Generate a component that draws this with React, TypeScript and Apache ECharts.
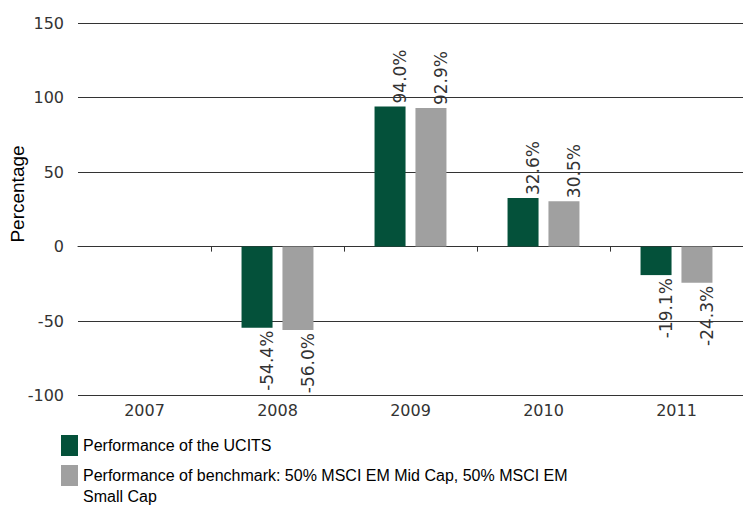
import React, { useEffect, useRef } from "react";
import * as echarts from "echarts";

const categories = ["2007", "2008", "2009", "2010", "2011"];
const ucitsValues: (number | null)[] = [null, -54.4, 94.0, 32.6, -19.1];
const benchmarkValues: (number | null)[] = [null, -56.0, 92.9, 30.5, -24.3];
const seriesNames = [
  "Performance of the UCITS",
  "Performance of benchmark: 50% MSCI EM Mid Cap, 50% MSCI EM\nSmall Cap",
];
const yTicks = { min: -100, max: 150, interval: 50 };
const axisTitle = "Percentage";

const GREEN = "#04513a";
const GREY = "#a0a0a0";
const AXIS_FONT = "DejaVu Sans";
const SANS = "Liberation Sans";

function buildData(values: (number | null)[]) {
  return values.map((v) => {
    if (v === null) return { value: null };
    const neg = v < 0;
    return {
      value: v,
      label: {
        position: neg ? "bottom" : "top",
        align: neg ? "right" : "left",
      },
    };
  });
}

export default function App() {
  const ref = useRef<HTMLDivElement>(null);
  useEffect(() => {
    if (!ref.current) return;
    const chart = echarts.init(ref.current, undefined, { renderer: "svg" });
    const label = {
      show: true,
      rotate: 90,
      verticalAlign: "middle",
      distance: 3,
      offset: [0, 10],
      fontFamily: AXIS_FONT,
      fontSize: 17,
      color: "#333",
      formatter: (p: any) => `${Number(p.value).toFixed(1)}%`,
    };
    const legendBase = {
      orient: "vertical",
      left: 61,
      width: 680,
      height: 300,
      padding: 0,
      itemWidth: 17,
      itemHeight: 21,
      itemGap: 9,
      icon: "rect",
      selectedMode: false,
      textStyle: { fontFamily: SANS, fontSize: 16, color: "#000", lineHeight: 21 },
    };
    chart.setOption({
      animation: false,
      backgroundColor: "#fff",
      grid: { left: 78, top: 23, width: 667, bottom: 110.3, containLabel: false },
      legend: [
        { ...legendBase, top: 435, data: [{ name: seriesNames[0] }] },
        {
          ...legendBase,
          top: 444,
          data: [{ name: seriesNames[1] }],
          formatter: (name: string) => "\n" + name,
        },
      ],
      graphic: [
        {
          type: "text",
          x: 17,
          y: 194,
          rotation: Math.PI / 2,
          style: {
            text: axisTitle,
            align: "center",
            verticalAlign: "middle",
            font: `19px "${SANS}"`,
            fill: "#000",
          },
        },
      ],
      xAxis: {
        type: "category",
        data: categories,
        axisLine: { show: true, lineStyle: { color: "#333", width: 1 } },
        axisTick: {
          show: true,
          length: 5,
          interval: (index: number) => index !== 0,
          lineStyle: { color: "#333" },
        },
        axisLabel: { fontFamily: AXIS_FONT, fontSize: 16, color: "#333", margin: 7 },
        splitLine: { show: false },
      },
      yAxis: {
        type: "value",
        min: yTicks.min,
        max: yTicks.max,
        interval: yTicks.interval,
        axisLine: { show: false },
        axisTick: { show: false },
        axisLabel: { fontFamily: AXIS_FONT, fontSize: 16, color: "#333", margin: 14 },
        splitLine: { show: true, lineStyle: { color: "#333", width: 1 } },
      },
      series: [
        {
          name: seriesNames[0],
          type: "bar",
          barWidth: 31,
          barGap: "32%",
          itemStyle: { color: GREEN },
          label,
          data: buildData(ucitsValues),
        },
        {
          name: seriesNames[1],
          type: "bar",
          barWidth: 31,
          barGap: "32%",
          itemStyle: { color: GREY },
          label,
          data: buildData(benchmarkValues),
        },
      ],
    });
    return () => chart.dispose();
  }, []);
  return (
    <div
      ref={ref}
      style={{ position: "fixed", left: 0, top: 0, width: 743, height: 506, background: "#fff" }}
    />
  );
}
